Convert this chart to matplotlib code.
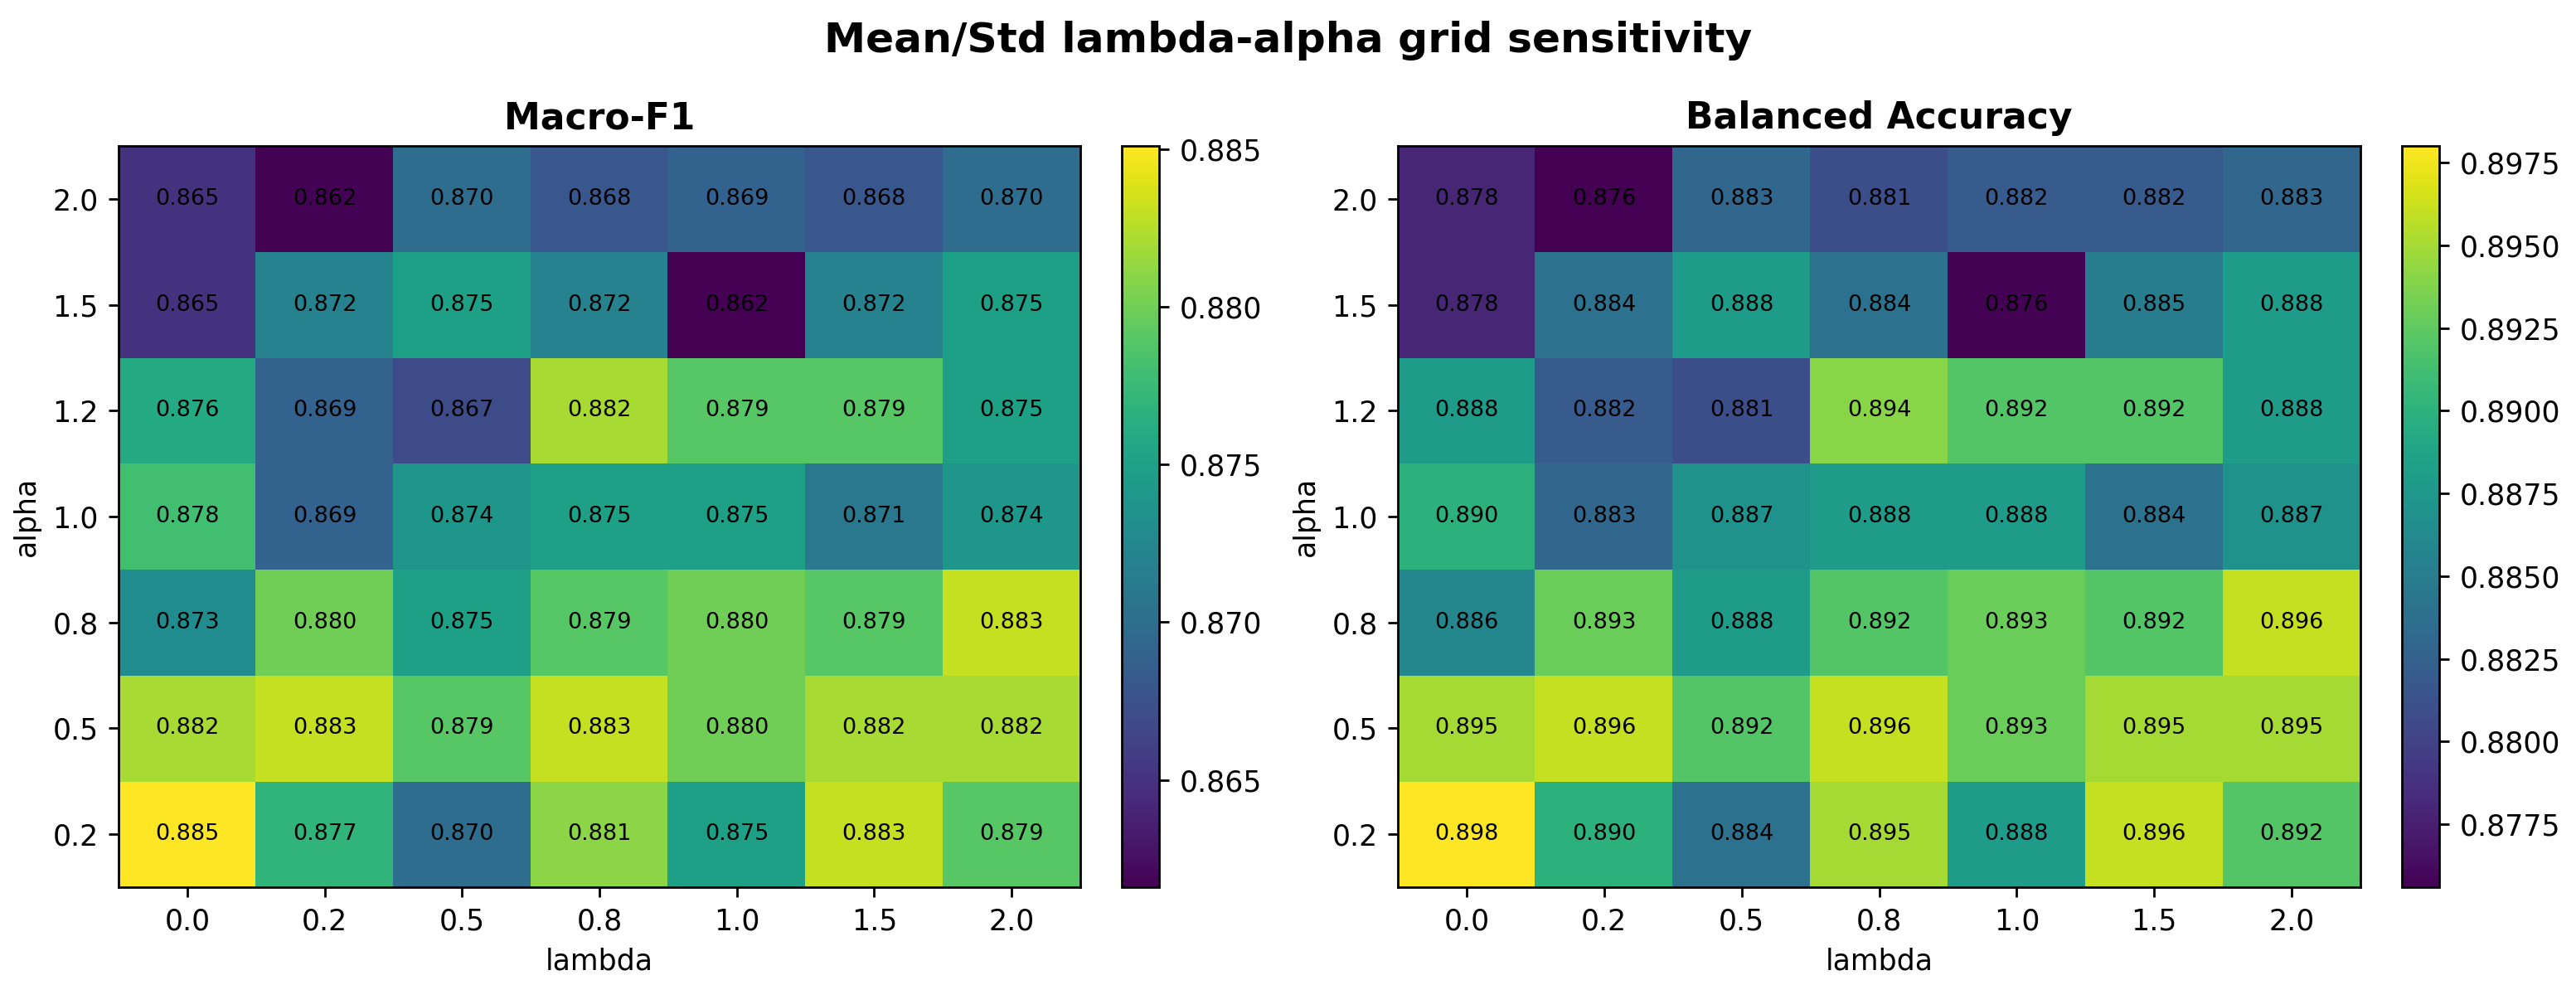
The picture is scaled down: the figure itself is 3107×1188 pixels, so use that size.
import numpy as np
import matplotlib
matplotlib.use('Agg')
import matplotlib.pyplot as plt

lambdas = ['0.0', '0.2', '0.5', '0.8', '1.0', '1.5', '2.0']
alphas = ['0.2', '0.5', '0.8', '1.0', '1.2', '1.5', '2.0']

# rows are alpha (0.2 -> 2.0), columns are lambda
macro_f1 = np.array([
    [0.8851, 0.877, 0.870, 0.881, 0.875, 0.883, 0.879],
    [0.882, 0.883, 0.879, 0.883, 0.880, 0.882, 0.882],
    [0.873, 0.880, 0.875, 0.879, 0.880, 0.879, 0.883],
    [0.878, 0.869, 0.874, 0.875, 0.875, 0.871, 0.874],
    [0.876, 0.869, 0.867, 0.882, 0.879, 0.879, 0.875],
    [0.865, 0.872, 0.875, 0.872, 0.8616, 0.872, 0.875],
    [0.865, 0.8617, 0.870, 0.868, 0.869, 0.868, 0.870],
])

bal_acc = np.array([
    [0.8980, 0.890, 0.884, 0.895, 0.888, 0.896, 0.892],
    [0.895, 0.896, 0.892, 0.896, 0.893, 0.895, 0.895],
    [0.886, 0.893, 0.888, 0.892, 0.893, 0.892, 0.896],
    [0.890, 0.883, 0.887, 0.888, 0.888, 0.884, 0.887],
    [0.888, 0.882, 0.881, 0.894, 0.892, 0.892, 0.888],
    [0.878, 0.884, 0.888, 0.884, 0.8757, 0.885, 0.888],
    [0.878, 0.8756, 0.883, 0.881, 0.882, 0.882, 0.883],
])

titles = ['Macro-F1', 'Balanced Accuracy']

W, H = 3107, 1188
dpi = 250
fig = plt.figure(figsize=(W / dpi, H / dpi), dpi=dpi)

ax_pos = [(143, 1303, 1353), (1686, 2847, 2897)]
top, bottom = 176, 1070

for data, title, (x0, x1, cx) in zip([macro_f1, bal_acc], titles, ax_pos):
    ax = fig.add_axes([x0 / W, 1 - bottom / H, (x1 - x0) / W, (bottom - top) / H])
    cax = fig.add_axes([cx / W, 1 - bottom / H, 45 / W, (bottom - top) / H])
    im = ax.imshow(data, cmap='viridis', aspect='auto', origin='lower')
    for i in range(len(alphas)):
        for j in range(len(lambdas)):
            ax.text(j, i, f'{data[i, j]:.3f}', ha='center', va='center',
                    fontsize=7.8, color='black')
    ax.set_xticks(range(len(lambdas)))
    ax.set_xticklabels(lambdas)
    ax.set_yticks(range(len(alphas)))
    ax.set_yticklabels(alphas)
    ax.set_xlabel('lambda')
    ax.set_ylabel('alpha')
    ax.set_title(title, fontsize=12.7, fontweight='bold')
    fig.colorbar(im, cax=cax)

fig.suptitle('Mean/Std lambda-alpha grid sensitivity', fontsize=14.5,
             fontweight='bold', y=1 - 63 / H, va='baseline')

fig.savefig('out.png', dpi=dpi)
